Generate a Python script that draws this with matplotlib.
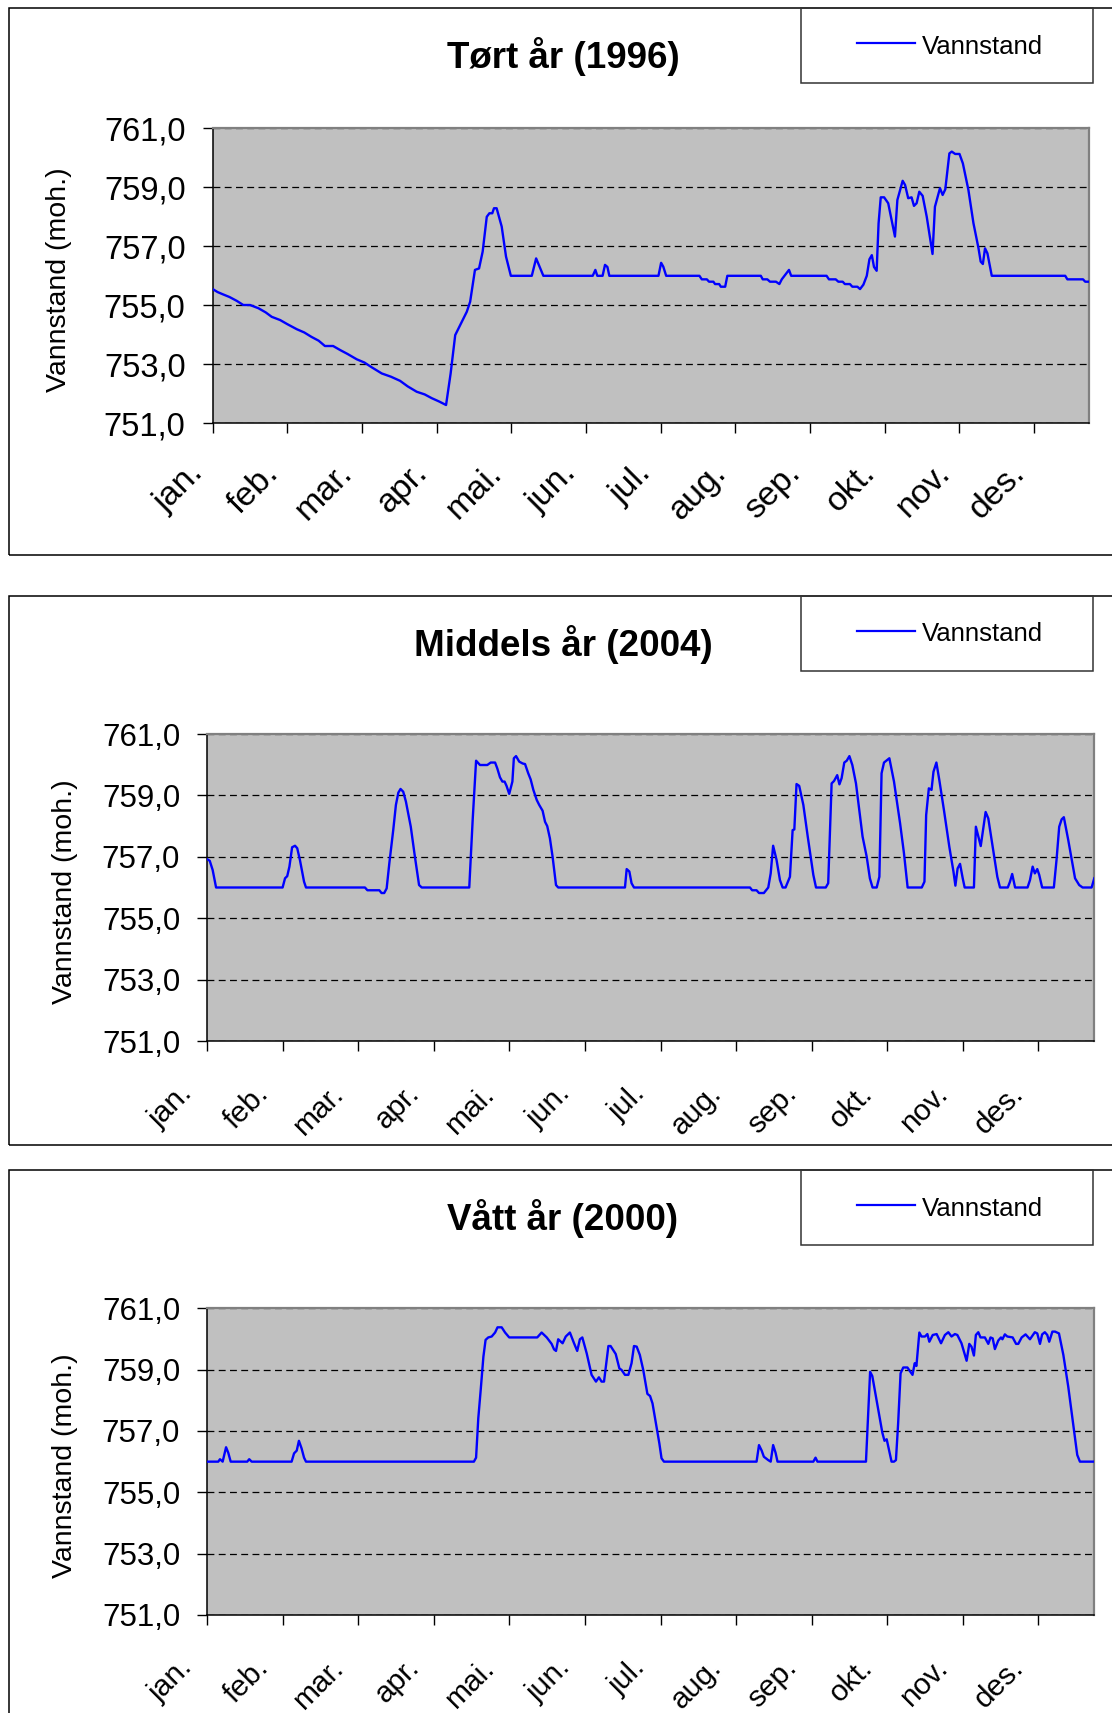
import matplotlib
matplotlib.use("Agg")
import matplotlib.pyplot as plt
from matplotlib.patches import Rectangle
from matplotlib.lines import Line2D
from matplotlib.transforms import ScaledTranslation

plt.rcParams['font.family'] = ['Liberation Sans', 'DejaVu Sans']

W, H = 1112, 1713  # output size in pixels (dpi 100)

# x axis: one tick per 31 days, like the original spreadsheet chart
months = ["jan.", "feb.", "mar.", "apr.", "mai.", "jun.",
          "jul.", "aug.", "sep.", "okt.", "nov.", "des."]
month_ticks = [0, 31, 62, 93, 124, 155, 186, 217, 248, 279, 310, 341]
level_ticks = [751, 753, 755, 757, 759, 761]

# Tørt år (1996): day of year, water level (moh.)
dry_day = [0, 2, 4, 7, 10, 12.7, 15.5, 19, 22, 24.5, 28, 31, 34.9, 38, 41, 44,
           46.6, 50, 53, 56, 59.8, 63, 66, 70.2, 74, 77.8, 81, 84.7, 88, 91, 94,
           96.9, 98.8, 100.7, 102.4, 105.5, 106.9, 108.9, 110.6, 112.1, 113.8,
           114.9, 116.1, 116.8, 117.9, 120, 121.8, 123.8, 132.5, 134.3, 137.3,
           157.8, 158.9, 159.7, 161.9, 162.9, 163.9, 164.7, 185.1, 186.2, 187.1,
           188.3, 202.1, 203.1, 205.2, 206.1, 207.9, 208.6, 210.3, 211, 212.8,
           213.7, 227.6, 228.4, 230.3, 231.4, 233.9, 235.3, 236.3, 238.4, 239.3,
           240.2, 254.9, 255.9, 258.7, 259.8, 261.6, 262.5, 264.6, 265.6, 267.7,
           268.8, 270.2, 271.6, 272.7, 273.7, 274.6, 275.7, 276.5, 277.4, 278.8,
           280.5, 283.3, 284.3, 286.5, 287.5, 288.8, 290.2, 291.2, 292.3, 293.4,
           294.8, 296.5, 298.9, 299.9, 302, 303.1, 304.2, 305.9, 306.9, 308.3,
           310.1, 311.5, 313.8, 315.9, 318, 318.9, 319.8, 320.7, 321.7, 323.5,
           354, 354.9, 361.4, 362.3, 364]
dry_level = [755.55, 755.45, 755.38, 755.28, 755.15, 755.01, 755.01, 754.9,
             754.76, 754.61, 754.5, 754.36, 754.19, 754.08, 753.93, 753.8,
             753.62, 753.62, 753.48, 753.35, 753.17, 753.06, 752.9, 752.69,
             752.58, 752.44, 752.25, 752.07, 751.98, 751.85, 751.74,
             751.62, 752.69, 753.99, 754.27, 754.78, 755.12, 756.2, 756.25,
             756.82, 758.0, 758.12, 758.12, 758.29, 758.29, 757.67, 756.65,
             756.0, 756.0, 756.59, 756.0,
             756.0, 756.2, 756.0, 756.0, 756.37, 756.3, 756.0, 756.0, 756.44,
             756.31, 756.0, 756.0, 755.88, 755.88, 755.8, 755.8, 755.72, 755.72,
             755.63, 755.63, 756.0, 756.0, 755.88, 755.88, 755.8, 755.8, 755.72,
             755.88, 756.1, 756.2, 756.0, 756.0, 755.88, 755.88, 755.8, 755.8,
             755.72, 755.72, 755.63, 755.63, 755.55, 755.7, 756.0, 756.56,
             756.7, 756.3, 756.17, 757.78, 758.66, 758.66, 758.46, 757.33,
             758.57, 759.22, 759.08, 758.63, 758.66, 758.37, 758.46, 758.85,
             758.71, 758.0, 756.74, 758.34, 758.97, 758.74, 758.93, 760.15,
             760.21, 760.13, 760.13, 759.81, 758.91, 757.78, 756.93, 756.48,
             756.4, 756.93, 756.76, 756.0, 756.0, 755.88, 755.88, 755.8, 755.8]

# Middels år (2004)
mid_day = [0, 1, 2.2, 3.6, 30.9, 31.9, 32.8, 33.7, 34.8, 36, 36.9, 38, 39.7,
           40.5, 64.7, 65.7, 70.6, 71.5, 72.6, 73.6, 74.7, 76.3, 77.4, 78.4,
           79.3, 80.4, 81.5, 83.5, 85.2, 86.9, 88, 107.5, 108.9, 110.3, 111.9,
           114.9, 116.3, 118.1, 119, 120.1, 121.1, 122, 122.8, 123.9, 125.2,
           125.8, 126.7, 128, 129.4, 130.4, 131.7, 132.7, 133.8, 135.2, 136.2,
           137.6, 138.6, 139.5, 140.6, 141.7, 143.1, 144, 171.4, 172.1, 173.2,
           174.1, 175.1, 222.7, 223.6, 225.4, 226.4, 228.4, 230.2, 231.2, 232.2,
           233.6, 235, 236.1, 237.3, 239.1, 240.2, 240.9, 241.8, 242.9, 244.6,
           246.4, 248.7, 249.8, 253.8, 254.8, 256.2, 257.2, 258.5, 259.4, 260.3,
           261.4, 262.4, 263.5, 264.7, 266.2, 268.9, 270.6, 271.9, 273, 274.7,
           275.8, 276.7, 277.7, 279.9, 281.8, 284.3, 285.9, 287.4, 293.2, 294.3,
           295, 296.1, 297.2, 298, 299.2, 300.4, 302.3, 304.5, 306.2, 307,
           307.9, 308.9, 310, 310.8, 314.6, 315.4, 317.4, 319.4, 320.5, 322.3,
           324.2, 325.3, 328.5, 329.4, 330.3, 331.5, 336.6, 337.6, 338.7, 339.6,
           340.6, 341.4, 342.6, 347.4, 348.5, 349.6, 350.6, 351.5, 353.3, 356.1,
           357.8, 359.2, 362.9, 364]
mid_level = [756.92, 756.87, 756.57, 756.0, 756.0, 756.3, 756.37, 756.68,
             757.31, 757.36, 757.28, 756.9, 756.19, 756.0, 756.0, 755.91,
             755.91, 755.82, 755.82, 755.97, 756.79, 757.87, 758.69, 759.09,
             759.21, 759.12, 758.8, 757.98, 757.0, 756.08, 756.0, 756.0, 758.2,
             760.13, 759.99, 759.99, 760.07, 760.07, 759.88, 759.59, 759.45,
             759.45, 759.31, 759.05, 759.45, 760.21, 760.28, 760.1, 760.04,
             760.02, 759.72, 759.52, 759.18, 758.85, 758.69, 758.5, 758.14,
             758.0, 757.6, 757.0, 756.08, 756.0, 756.0, 756.6, 756.52, 756.14,
             756.0, 756.0, 755.91, 755.91, 755.82, 755.82, 756.0, 756.46,
             757.36, 756.9, 756.24, 756.0, 756.0, 756.35, 757.87, 757.89,
             759.37, 759.31, 758.69, 757.66, 756.41, 756.0, 756.0, 756.14,
             759.39, 759.47, 759.66, 759.36, 759.56, 760.07, 760.13, 760.28,
             759.99, 759.39, 757.66, 757.0, 756.3, 756.0, 756.0, 756.35, 759.72,
             760.07, 760.21, 759.45, 758.09, 757.11, 756.0, 756.0, 756.19,
             758.36, 759.23, 759.18, 759.77, 760.07, 759.5, 758.52, 757.33,
             756.52, 756.06, 756.62, 756.77, 756.3, 756.0, 756.0, 757.98,
             757.35, 758.46, 758.25, 757.33, 756.35, 756.0, 756.0, 756.19,
             756.44, 756.0, 756.0, 756.24, 756.68, 756.46, 756.6, 756.41, 756.0,
             756.0, 756.9, 757.98, 758.22, 758.29, 757.55, 756.3, 756.08, 756.0,
             756.0, 756.3]

# Vått år (2000)
wet_day = [0, 4.5, 5.2, 5.9, 6.3, 7.7, 8.6, 9.6, 16.4, 17.2, 18.2, 34.6, 35.6,
           36.7, 37.6, 38.7, 39.7, 40.5, 109.4, 110.3, 111.2, 112.2, 113.3,
           114.2, 115.3, 116.7, 118.1, 119.1, 120.8, 122.2, 123.9, 135.4, 137.2,
           139.3, 141.3, 142.3, 143.1, 144, 145.8, 147.1, 148.8, 150.5, 151.8,
           152.9, 153.9, 155.7, 157.7, 159.5, 160.7, 161.8, 162.8, 164.6, 165.5,
           167.6, 169.1, 170, 171.4, 172.8, 174.1, 175.1, 176.2, 177.5, 178.9,
           180.6, 181.7, 182.7, 184.1, 185.5, 186.4, 187.4, 225.4, 226.4, 227.5,
           228.4, 230.2, 231.2, 232.2, 233.2, 234, 248.7, 249.6, 250.4, 270.3,
           272, 272.9, 275, 277, 277.9, 278.8, 279.7, 280.8, 281.8, 282.6, 283.5,
           284.5, 285.6, 287.3, 289.4, 290.3, 291, 292.2, 293.1, 294.5, 295.5,
           296.3, 297.7, 299.3, 301.1, 302.7, 304.1, 305.4, 306.8, 307.8, 309.5,
           311.6, 312.7, 313.6, 314.6, 315.4, 316.4, 317.3, 319.1, 320.5, 321.4,
           322.3, 323.2, 324.6, 325.7, 326.3, 327.3, 328.3, 330.5, 331.9, 332.8,
           334.2, 335.8, 337.6, 339.6, 340.6, 341.7, 342.6, 343.7, 344.7, 345.5,
           346.8, 347.9, 349.5, 351.3, 353.3, 355.1, 357, 358.1, 364]
wet_level = [756.0, 756.0, 756.08, 756.03, 756.0, 756.47, 756.29, 756.0, 756.0,
             756.08, 756.0, 756.0, 756.27, 756.36, 756.68, 756.43, 756.13,
             756.0, 756.0, 756.13, 757.41, 758.34, 759.42, 759.97, 760.05,
             760.08, 760.21, 760.38, 760.38, 760.21, 760.05, 760.05, 760.21,
             760.05, 759.84, 759.66, 759.61, 759.99, 759.86, 760.08, 760.21,
             759.86, 759.61, 759.99, 760.05, 759.53, 758.83, 758.61, 758.75,
             758.61, 758.61, 759.77, 759.77, 759.51, 759.04, 758.99, 758.83,
             758.83, 759.21, 759.77, 759.75, 759.48, 758.99, 758.21, 758.14,
             757.9, 757.25, 756.6, 756.11, 756.0, 756.0, 756.54, 756.36, 756.16,
             756.05, 756.0, 756.54, 756.29, 756.0, 756.0, 756.13, 756.0, 756.0,
             758.93, 758.79, 757.85, 756.95, 756.68, 756.73, 756.4, 756.0, 756.0,
             756.05, 757.25, 758.88, 759.07, 759.07, 758.83, 759.21, 759.12,
             760.21, 760.08, 760.08, 760.16, 759.91, 760.13, 760.16, 759.86,
             760.13, 760.22, 760.08, 760.16, 760.13, 759.86, 759.29, 759.84,
             759.75, 759.46, 760.13, 760.22, 760.05, 760.05, 759.84, 760.05,
             760.02, 759.67, 759.95, 760.05, 759.99, 760.15, 760.08, 760.05,
             759.84, 759.84, 760.05, 760.15, 759.99, 760.22, 760.18, 759.84,
             760.15, 760.22, 760.13, 759.91, 760.24, 760.24, 760.18, 759.48,
             758.45, 757.36, 756.22, 756.0, 756.0]

panels = [
    # frame top/bottom and axes left/top/right/bottom are in pixels
    dict(title="Tørt år (1996)", days=dry_day, levels=dry_level,
         frame=(8, 555), box=(212.7, 128.3, 1089.3, 423.3),
         ytick_fs=23.5, xtick_fs=24.5, xpad=17.5, xshift=-25, ylab_x=59),
    dict(title="Middels år (2004)", days=mid_day, levels=mid_level,
         frame=(595.5, 1145), box=(207.3, 734, 1094.3, 1041),
         ytick_fs=22.5, xtick_fs=21.5, xpad=20.5, xshift=-29, ylab_x=65),
    dict(title="Vått år (2000)", days=wet_day, levels=wet_level,
         frame=(1170, 1730), box=(207.3, 1308.3, 1094.3, 1615),
         ytick_fs=22.5, xtick_fs=21.5, xpad=20.5, xshift=-29, ylab_x=65),
]


def fx(x):
    return x / W


def fy(y):
    return 1 - y / H


fig = plt.figure(figsize=(W / 100, H / 100), dpi=100)

for p in panels:
    top, bottom = p["frame"]
    # outer chart frame (runs off the right edge like the source)
    fig.add_artist(Rectangle((fx(8.5), fy(bottom)), fx(1130 - 8.5), (bottom - top) / H,
                             transform=fig.transFigure, fill=False,
                             ec="black", lw=1.1))
    fig.text(fx(563), fy(top + 60.5), p["title"], ha="center", va="baseline",
             fontsize=26.5, fontweight="bold")

    # legend box
    fig.add_artist(Rectangle((fx(801), fy(top + 75)), fx(1093 - 801), 75 / H,
                             transform=fig.transFigure, fill=False,
                             ec="#333333", lw=1.1))
    fig.add_artist(Line2D([fx(857), fx(915)], [fy(top + 35)] * 2,
                          transform=fig.transFigure, color="#0000FF", lw=1.6))
    fig.text(fx(922), fy(top + 45.5), "Vannstand", ha="left", va="baseline",
             fontsize=18.5)

    l, t, r, b = p["box"]
    ax = fig.add_axes([fx(l), fy(b), (r - l) / W, (b - t) / H])
    ax.set_facecolor("#C0C0C0")
    ax.plot(p["days"], p["levels"], color="#0000FF", lw=1.7, zorder=3)

    ax.set_xlim(0, 364)
    ax.set_ylim(751, 761)
    ax.set_yticks(level_ticks)
    ax.set_yticklabels([f"{v:.1f}".replace(".", ",") for v in level_ticks],
                       fontsize=p["ytick_fs"])
    ax.set_xticks(month_ticks)
    ax.set_xticklabels(months, rotation=45, ha="right", va="top",
                       rotation_mode="anchor", fontsize=p["xtick_fs"])
    ax.tick_params(axis="both", direction="out", length=7, width=1,
                   color="black")
    ax.tick_params(axis="y", pad=12.5)
    ax.tick_params(axis="x", pad=p["xpad"])
    shift = ScaledTranslation(p["xshift"] / 100, 0, fig.dpi_scale_trans)
    for lbl in ax.get_xticklabels():
        lbl.set_transform(lbl.get_transform() + shift)

    ax.yaxis.grid(True, color="black", lw=0.9, linestyle=(0, (5.5, 3.5)))
    ax.set_axisbelow(True)
    for side in ("top", "right"):
        ax.spines[side].set_color("#808080")
        ax.spines[side].set_linewidth(1.6)
    for side in ("left", "bottom"):
        ax.spines[side].set_color("black")
        ax.spines[side].set_linewidth(1.1)

    fig.text(fx(p["ylab_x"]), fy((t + b) / 2 + 4), "Vannstand (moh.)",
             rotation=90, ha="center", va="center", fontsize=20.5)

fig.savefig("out.png", dpi=100)
